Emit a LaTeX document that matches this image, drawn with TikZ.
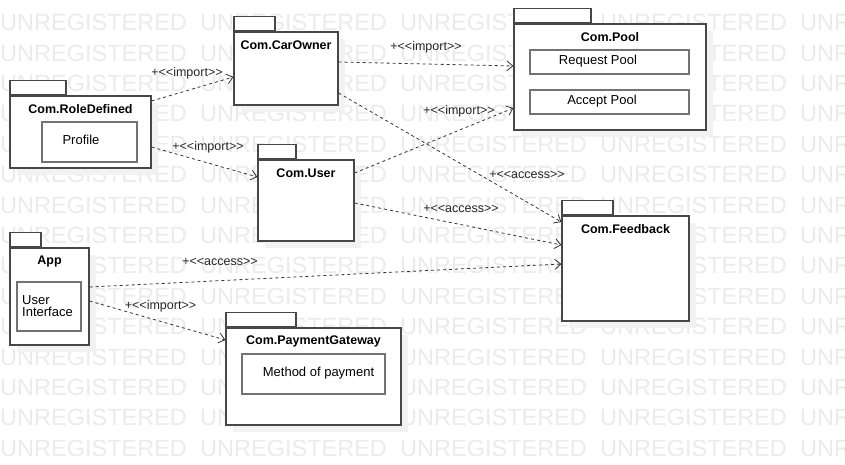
\documentclass[tikz,border=0pt]{standalone}
\usepackage{fontspec}
\setmainfont{Liberation Sans}[Ligatures=TeXOff]
\usetikzlibrary{arrows.meta,shadows}

\begin{document}
\begin{tikzpicture}[x=1pt, y=-1pt,
    wm/.style={anchor=base west, inner sep=0pt, text=black!8, font=\fontsize{23.5}{24}\selectfont},
    pkg/.style={draw=black!72, line width=1.2pt, fill=white, inner sep=0pt,
      general shadow={fill=black!5, shadow xshift=7pt, shadow yshift=-7pt}},
    tab/.style={draw=black!72, line width=1.2pt, fill=white, inner sep=0pt, anchor=south west, minimum height=14pt},
    part/.style={draw=black!55, line width=1.6pt, inner sep=0pt},
    title/.style={font=\bfseries\fontsize{12.5}{14}\selectfont, inner sep=0pt},
    txt/.style={font=\fontsize{13}{12.5}\selectfont, inner sep=0pt},
    lbl/.style={font=\fontsize{12.5}{14}\selectfont, inner sep=0pt, text=black!85},
    dep/.style={color=black!80, line width=0.8pt, dash pattern=on 3pt off 3pt,
      -{Straight Barb[length=6pt, width=10pt]}}
  ]
  \useasboundingbox (0,0) rectangle (845,465);
  \clip (0,0) rectangle (845,465);

  % watermark
  \foreach \r in {0,...,14}
    \foreach \c in {0,...,4}
      \node[wm] (wm-\r-\c) at (200*\c, 30.7+30.4*\r) {UNREGISTERED};

  % packages
  \node[pkg, minimum width=104pt, minimum height=73pt] (carowner) at (286,68.5) {};
  \node[tab, minimum width=41pt] (carownertab) at (carowner.north west) {};
  \node[title] (carownername) at ([yshift=-13.5pt]carowner.north) {Com.CarOwner};

  \node[pkg, minimum width=141pt, minimum height=72pt] (roledef) at (80.5,132) {};
  \node[tab, minimum width=56pt] (roledeftab) at (roledef.north west) {};
  \node[title] (roledefname) at ([yshift=-13.5pt]roledef.north) {Com.RoleDefined};

  \node[pkg, minimum width=96pt, minimum height=81pt] (user) at (306,200.5) {};
  \node[tab, minimum width=38pt] (usertab) at (user.north west) {};
  \node[title] (username) at ([yshift=-13.5pt]user.north) {Com.User};

  \node[pkg, minimum width=79pt, minimum height=97pt] (app) at (49.5,296.5) {};
  \node[tab, minimum width=31pt] (apptab) at (app.north west) {};
  \node[title] (appname) at ([yshift=-14pt]app.north) {App};

  \node[pkg, minimum width=175pt, minimum height=97pt] (payment) at (313.5,376.5) {};
  \node[tab, minimum width=70pt] (paymenttab) at (payment.north west) {};
  \node[title] (paymentname) at ([yshift=-14pt]payment.north) {Com.PaymentGateway};

  \node[pkg, minimum width=192pt, minimum height=106pt] (pool) at (610,77) {};
  \node[tab, minimum width=77pt] (pooltab) at (pool.north west) {};
  \node[title] (poolname) at ([yshift=-13.5pt]pool.north) {Com.Pool};

  \node[pkg, minimum width=127pt, minimum height=105pt] (feedback) at (625.5,268.5) {};
  \node[tab, minimum width=51pt] (feedbacktab) at (feedback.north west) {};
  \node[title] (feedbackname) at ([yshift=-13.5pt]feedback.north) {Com.Feedback};

  % contents
  \node[part, minimum width=95pt, minimum height=40pt] (profile) at (89.5,142) {};
  \node[txt] (profiletext) at (81,140) {Profile};
  \node[part, minimum width=64pt, minimum height=49pt] (uiface) at (49,306.5) {};
  \node[txt, anchor=west, align=left] (uifacetext) at (22,306) {User\\Interface};
  \node[part, minimum width=143pt, minimum height=40pt] (method) at (313.5,374) {};
  \node[txt] (methodtext) at (318.5,373) {Method of payment};
  \node[part, minimum width=159pt, minimum height=24pt] (request) at (609.5,62) {};
  \node[txt] (requesttext) at (598,61) {Request Pool};
  \node[part, minimum width=159pt, minimum height=24pt] (accept) at (609.5,102) {};
  \node[txt] (accepttext) at (602,101) {Accept Pool};

  % dependencies
  \path[dep]
    ([yshift=31pt]roledef.east) edge ([yshift=-8.5pt]carowner.west)
    ([yshift=6.5pt]carowner.east) edge ([yshift=11pt]pool.west)
    ([yshift=-15pt]roledef.east) edge ([yshift=23.5pt]user.west)
    ([yshift=27.5pt]user.east) edge ([yshift=-31pt]pool.west)
    ;
  \path[dep]
    ([yshift=-24.5pt]carowner.east) edge ([yshift=46.5pt]feedback.west)
    ([yshift=-2.5pt]user.east) edge ([yshift=23.5pt]feedback.west)
    ([yshift=9.5pt]app.east) edge ([yshift=4.5pt]feedback.west)
    ([yshift=-4.5pt]app.east) edge ([yshift=36.5pt]payment.west)
    ;

  \node[lbl] (imp1) at (187,73) {+<<import>>};
  \node[lbl] (imp2) at (426,47) {+<<import>>};
  \node[lbl] (imp3) at (208,147) {+<<import>>};
  \node[lbl] (imp4) at (459,111) {+<<import>>};
  \node[lbl] (acc1) at (527,175) {+<<access>>};
  \node[lbl] (acc2) at (461,209) {+<<access>>};
  \node[lbl] (acc3) at (220,262) {+<<access>>};
  \node[lbl] (imp5) at (160.5,306) {+<<import>>};
\end{tikzpicture}
\end{document}
